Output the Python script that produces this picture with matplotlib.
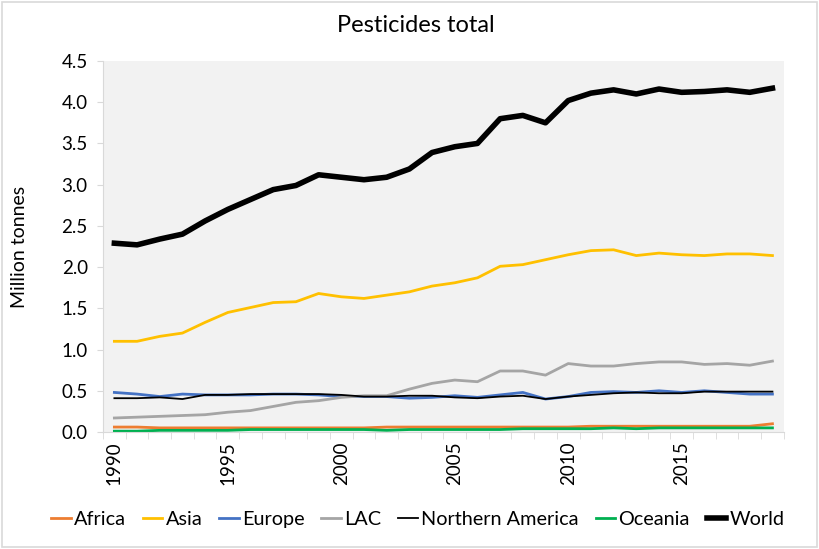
import matplotlib
matplotlib.use("Agg")
import matplotlib.pyplot as plt
from matplotlib.patches import Rectangle
import numpy as np

# ------------------------------------------------------------
# Data (million tonnes)
# ------------------------------------------------------------
years = list(range(1990, 2020))

africa = [0.06, 0.06, 0.05, 0.05, 0.05, 0.05, 0.05, 0.05, 0.05, 0.05,
          0.05, 0.05, 0.06, 0.06, 0.06, 0.06, 0.06, 0.06, 0.06, 0.06,
          0.06, 0.07, 0.07, 0.07, 0.07, 0.07, 0.07, 0.07, 0.07, 0.10]
asia = [1.10, 1.10, 1.16, 1.20, 1.33, 1.45, 1.51, 1.57, 1.58, 1.68,
        1.64, 1.62, 1.66, 1.70, 1.77, 1.81, 1.87, 2.01, 2.03, 2.09,
        2.15, 2.20, 2.21, 2.14, 2.17, 2.15, 2.14, 2.16, 2.16, 2.14]
europe = [0.48, 0.46, 0.43, 0.46, 0.45, 0.45, 0.45, 0.46, 0.46, 0.45,
          0.43, 0.43, 0.43, 0.41, 0.42, 0.44, 0.42, 0.45, 0.48, 0.40,
          0.43, 0.48, 0.49, 0.48, 0.50, 0.48, 0.50, 0.48, 0.46, 0.46]
lac = [0.17, 0.18, 0.19, 0.20, 0.21, 0.24, 0.26, 0.31, 0.36, 0.38,
       0.42, 0.44, 0.44, 0.52, 0.59, 0.63, 0.61, 0.74, 0.74, 0.69,
       0.83, 0.80, 0.80, 0.83, 0.85, 0.85, 0.82, 0.83, 0.81, 0.86]
n_america = [0.41, 0.41, 0.42, 0.40, 0.45, 0.45, 0.46, 0.46, 0.46, 0.46,
             0.45, 0.43, 0.43, 0.44, 0.44, 0.42, 0.41, 0.43, 0.44, 0.40,
             0.43, 0.45, 0.47, 0.48, 0.47, 0.47, 0.49, 0.49, 0.49, 0.49]
oceania = [0.01, 0.01, 0.02, 0.02, 0.02, 0.02, 0.03, 0.03, 0.03, 0.03,
           0.03, 0.03, 0.02, 0.03, 0.03, 0.03, 0.03, 0.03, 0.04, 0.04,
           0.04, 0.04, 0.05, 0.04, 0.05, 0.05, 0.05, 0.05, 0.05, 0.05]
world = [2.29, 2.27, 2.34, 2.40, 2.56, 2.70, 2.82, 2.94, 2.99, 3.12,
         3.09, 3.06, 3.09, 3.19, 3.39, 3.46, 3.50, 3.80, 3.84, 3.75,
         4.02, 4.11, 4.15, 4.10, 4.16, 4.12, 4.13, 4.15, 4.12, 4.17]

series = [
    ("Africa", africa, "#ED7D31", 2.0),
    ("Asia", asia, "#FFC000", 2.0),
    ("Europe", europe, "#4472C4", 2.0),
    ("LAC", lac, "#A5A5A5", 2.0),
    ("Northern America", n_america, "#000000", 1.3),
    ("Oceania", oceania, "#00B050", 2.0),
    ("World", world, "#000000", 4.0),
]

plt.rcParams["font.family"] = ["Lato", "DejaVu Sans"]

# ------------------------------------------------------------
# Figure
# ------------------------------------------------------------
fig = plt.figure(figsize=(8.19, 5.49), dpi=100)
ax = fig.add_axes([0.1258, 0.2131, 0.8312, 0.6758])
ax.set_facecolor("#F2F2F2")

x = np.arange(len(years))
for name, vals, col, lw in series:
    ax.plot(x, vals, color=col, lw=lw, label=name, solid_joinstyle="round")

ax.set_xlim(-0.5, len(years) - 0.5)
ax.set_ylim(0, 4.5)
ax.set_yticks(np.arange(0, 4.51, 0.5))
ax.set_yticklabels([f"{v:.1f}" for v in np.arange(0, 4.51, 0.5)], fontsize=13.5)

lab_idx = [i for i, y in enumerate(years) if y % 5 == 0]
ax.set_xticks(lab_idx)
ax.set_xticklabels([str(years[i]) for i in lab_idx], rotation=90, fontsize=13.5)
ax.set_xticks(np.arange(-0.5, len(years)), minor=True)
ax.tick_params(axis="x", which="major", length=0, pad=7)
ax.tick_params(axis="x", which="minor", length=5, color="#D9D9D9")
ax.tick_params(axis="y", length=4, color="#D9D9D9", pad=7)

for side in ["top", "right"]:
    ax.spines[side].set_visible(False)
for side in ["left", "bottom"]:
    ax.spines[side].set_color("#D9D9D9")

ax.set_ylabel("Million tonnes", fontsize=14, labelpad=24)
fig.text(0.508, 0.953, "Pesticides total", ha="center", va="center", fontsize=17)

fig.legend(loc="center", bbox_to_anchor=(0.51, 0.054), ncol=7, frameon=False,
           fontsize=14.3, handlelength=1.0, handletextpad=0.15, columnspacing=0.85)

# light chart-area border
fig.patches.append(Rectangle((0.002, 0.003), 0.996, 0.994, transform=fig.transFigure,
                             fill=False, edgecolor="#D9D9D9", lw=1.2))

fig.savefig("out.png", dpi=100)
